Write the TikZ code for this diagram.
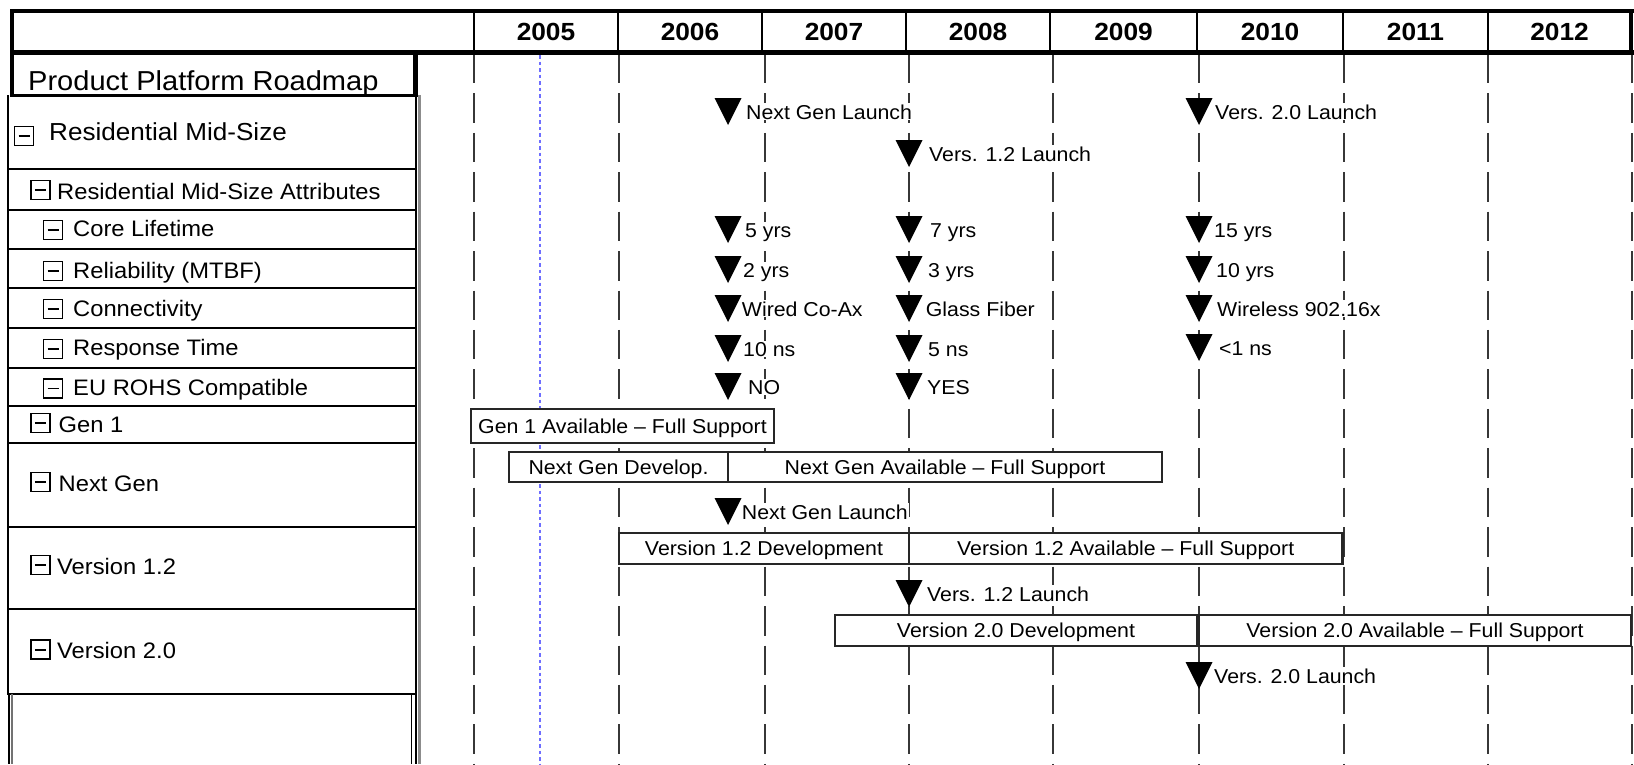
\documentclass[tikz,border=0pt]{standalone}
\usepackage{fontspec}
\setmainfont{Liberation Sans}[FakeStretch=1.06]
\newcommand\fsz[1]{\fontsize{#1pt}{#1pt}\selectfont}
\definecolor{todayblue}{RGB}{110,110,255}
\definecolor{gridgray}{RGB}{55,55,55}
\tikzset{
  rowline/.style={line width=2pt, black},
  gridline/.style={line width=2pt, gridgray, dash pattern=on 29.5pt off 9.94pt},
  todayline/.style={line width=2pt, todayblue, dash pattern=on 3.5pt off 3pt},
  bar/.style={draw=black!85, line width=2.6pt, fill=white, inner sep=0pt,
    font=\fsz{20.1}, text height=14.4pt, text depth=0pt},
  mslabel/.style={fill=white, inner sep=1pt, anchor=base west, font=\fsz{20.1}},
  rowlabel/.style={anchor=base west, inner sep=0pt, font=\fsz{22.4}},
  yearlabel/.style={font=\bfseries\fsz{24.8}, inner sep=0pt, text height=17.8pt, text depth=0pt},
  ms/.pic={\fill[black] (-13.5,0) -- (13.5,0) -- (0,27) -- cycle;},
  minusbox/.pic={\draw[line width=1.6pt] (-9.5,-9.5) rectangle (9.5,9.5);
                 \draw[line width=1.6pt] (-5.5,0) -- (5.5,0);}
}
\begin{document}
\begin{tikzpicture}[x=1pt,y=-1pt]
\useasboundingbox (0,0) rectangle (1634,764);
\fill[white] (0,0) rectangle (1634,764);

% grid lines
\foreach \gx in {474,619,765,909,1053,1199,1344,1488,1632}
  \draw[gridline] (\gx,53.9) -- (\gx,764);
\draw[todayline] (540.3,55) -- (540.3,764);

% left column rows
\foreach \ry in {169,210,249,288,328,368,406,443,527,609,694}
  \draw[rowline] (7.3,\ry) -- (417,\ry);
\draw[rowline] (8.3,95) -- (8.3,694);
\draw[rowline] (416,95) -- (416,694);
\draw[line width=2.5pt, black!45] (419.5,95) -- (419.5,764);
\draw[line width=2pt] (8.5,694) -- (8.5,764);
\draw[line width=1.5pt, black!55] (11.8,694) -- (11.8,764);
\draw[line width=1.5pt] (411.7,694) -- (411.7,764);
\draw[line width=2pt] (416,694) -- (416,764);

% Product Platform Roadmap box
\draw[line width=3pt] (10,95.8) -- (418,95.8);
\draw[line width=5pt] (415.8,52) -- (415.8,97.3);
\draw[line width=4pt] (12,9.3) -- (12,97.3);

% header frame
\draw[line width=3.5pt] (10,11) -- (1634,11);
\draw[line width=3.5pt] (1631,9.25) -- (1631,55);
\draw[line width=5pt] (10,52.5) -- (1634,52.5);
\foreach \hx in {474,618,762,906,1050,1197,1343,1488}
  \draw[line width=1.5pt] (\hx,11) -- (\hx,52);

% years
\foreach \yx/\yr in {546/2005,690/2006,834/2007,978/2008,1123.5/2009,1270/2010,1415.5/2011,1559.5/2012}
  \node[yearlabel] (y\yr) at (\yx,32) {\yr};

% left column labels
\node[rowlabel, font=\fsz{27.4}] (ppr) at (28,90) {Product Platform Roadmap};
\pic at (24,136) {minusbox};
\node[rowlabel, font=\fsz{24.6}] (res) at (49,140) {Residential Mid-Size};
\pic at (40.3,190) {minusbox};
\node[rowlabel] (attr) at (57,199.3) {Residential Mid-Size Attributes};
\foreach \iy/\by/\nm/\txt in {230/236.5/core/Core Lifetime,
    271/278/rel/Reliability (MTBF),
    309/316.5/conn/Connectivity,
    349/355.5/resp/Response Time,
    388.5/395/rohs/EU ROHS Compatible}{
  \pic at (53,\iy) {minusbox};
  \node[rowlabel] (\nm) at (73,\by) {\txt};
}
\foreach \iy/\by/\bx/\nm/\txt in {423/432.5/58.5/gen/Gen 1,
    482/491/58.5/ngen/Next Gen,
    565/574/57/ver12/Version 1.2,
    649.7/658/57/ver20/Version 2.0}{
  \pic at (40.3,\iy) {minusbox};
  \node[rowlabel] (\nm) at (\bx,\by) {\txt};
}

% bars
\node[bar, minimum width=303pt, minimum height=34pt] (gen1) at (622.5,426) {Gen 1 Available – Full Support};
\node[bar, minimum width=219pt, minimum height=30pt] (ngdev) at (618.5,467) {Next Gen Develop.};
\node[bar, minimum width=434pt, minimum height=30pt] (ngav) at (945,467) {Next Gen Available – Full Support};
\node[bar, minimum width=290pt, minimum height=31pt] (vadev) at (764,548.5) {Version 1.2 Development};
\node[bar, minimum width=433.5pt, minimum height=31pt] (vaav) at (1125.75,548.5) {Version 1.2 Available – Full Support};
\node[bar, minimum width=362pt, minimum height=31pt] (vbdev) at (1016,630.5) {Version 2.0 Development};
\node[bar, minimum width=432pt, minimum height=31pt] (vbav) at (1415,630.5) {Version 2.0 Available – Full Support};

% milestones
\foreach \mx/\my/\lx/\nm/\txt in {
    728/98/746/msA/Next Gen Launch,
    1199/98/1215/msB/Vers. 2.0 Launch,
    909/140/929/msC/Vers. 1.2 Launch,
    728/216/745/msD/5 yrs,
    909/216/930/msE/7 yrs,
    1199/216/1214/msF/15 yrs,
    728/256/743/msG/2 yrs,
    909/256/928/msH/3 yrs,
    1199/256/1216/msI/10 yrs,
    728/295/741.7/msJ/Wired Co-Ax,
    909/295/925.7/msK/Glass Fiber,
    1199/295/1217/msL/Wireless 902.16x,
    728/335/743/msM/10 ns,
    909/335/928/msN/5 ns,
    1199/334/1219/msO/<1 ns,
    728/373/748/msP/NO,
    909/373/927/msQ/YES,
    728/498/741.7/msR/Next Gen Launch,
    909/580/927/msS/Vers. 1.2 Launch,
    1199/662/1214/msT/Vers. 2.0 Launch}{
  \node[mslabel] (\nm) at (\lx-1,\my+21) {\txt};
  \pic at (\mx,\my) {ms};
}
\end{tikzpicture}
\end{document}
